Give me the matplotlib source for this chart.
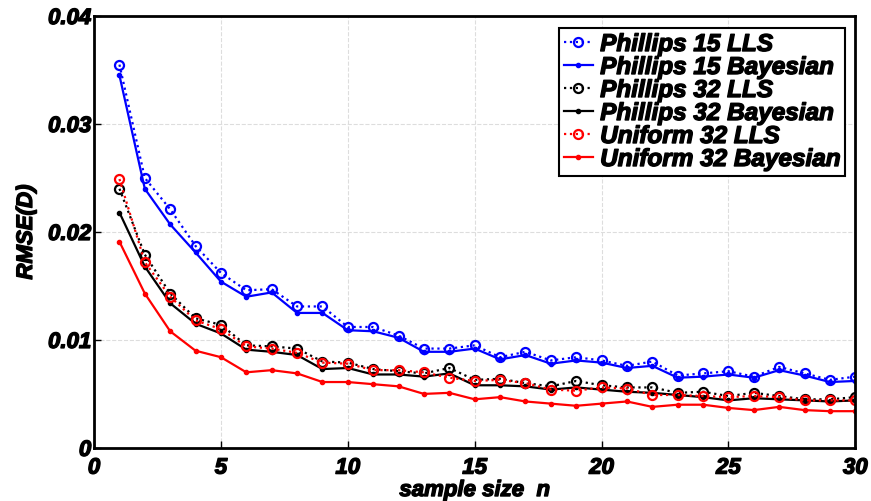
import numpy as np
import matplotlib.pyplot as plt
import matplotlib.patheffects as pe

plt.rcParams['font.family'] = ['Liberation Sans', 'DejaVu Sans']

n = np.arange(1, 31)

phillips15_lls = [0.0355, 0.0250, 0.0221, 0.0187, 0.0162, 0.0146, 0.0147, 0.0131, 0.0131, 0.0112,
                  0.0112, 0.0104, 0.0092, 0.0092, 0.0095, 0.0084, 0.0089, 0.0081, 0.0084, 0.0081,
                  0.0076, 0.0080, 0.0067, 0.0069, 0.0071, 0.0066, 0.0075, 0.0069, 0.0063, 0.0066]
phillips15_bayes = [0.0345, 0.0240, 0.0207, 0.0181, 0.0154, 0.0140, 0.0144, 0.0125, 0.0125, 0.0109,
                    0.0108, 0.0102, 0.0089, 0.0089, 0.0092, 0.0082, 0.0086, 0.0078, 0.0081, 0.0079,
                    0.0074, 0.0076, 0.0065, 0.0066, 0.0068, 0.0065, 0.0072, 0.0067, 0.0061, 0.0062]
phillips32_lls = [0.0240, 0.0179, 0.0143, 0.0120, 0.0114, 0.0095, 0.0094, 0.0092, 0.0080, 0.0079,
                  0.0073, 0.0071, 0.0069, 0.0074, 0.0063, 0.0064, 0.0060, 0.0057, 0.0062, 0.0058,
                  0.0056, 0.0056, 0.0051, 0.0052, 0.0048, 0.0051, 0.0048, 0.0045, 0.0045, 0.0047]
phillips32_bayes = [0.0218, 0.0168, 0.0134, 0.0115, 0.0106, 0.0091, 0.0089, 0.0086, 0.0073, 0.0074,
                    0.0068, 0.0068, 0.0066, 0.0069, 0.0058, 0.0058, 0.0057, 0.0054, 0.0056, 0.0054,
                    0.0052, 0.0051, 0.0049, 0.0047, 0.0044, 0.0046, 0.0045, 0.0044, 0.0043, 0.0044]
uniform32_lls = [0.0249, 0.0172, 0.0140, 0.0118, 0.0110, 0.0094, 0.0092, 0.0088, 0.0079, 0.0078,
                 0.0072, 0.0072, 0.0070, 0.0065, 0.0062, 0.0063, 0.0060, 0.0054, 0.0053, 0.0056,
                 0.0055, 0.0049, 0.0049, 0.0048, 0.0047, 0.0048, 0.0047, 0.0044, 0.0044, 0.0044]
uniform32_bayes = [0.0191, 0.0143, 0.0108, 0.0090, 0.0084, 0.0070, 0.0072, 0.0069, 0.0061, 0.0061,
                   0.0059, 0.0057, 0.0050, 0.0051, 0.0045, 0.0047, 0.0043, 0.0041, 0.0039, 0.0041,
                   0.0043, 0.0038, 0.0040, 0.0040, 0.0037, 0.0035, 0.0038, 0.0035, 0.0034, 0.0034]

series = [
    (phillips15_lls, 'Phillips 15 LLS', 'blue', ':', 'o'),
    (phillips15_bayes, 'Phillips 15 Bayesian', 'blue', '-', '.'),
    (phillips32_lls, 'Phillips 32 LLS', 'black', ':', 'o'),
    (phillips32_bayes, 'Phillips 32 Bayesian', 'black', '-', '.'),
    (uniform32_lls, 'Uniform 32 LLS', 'red', ':', 'o'),
    (uniform32_bayes, 'Uniform 32 Bayesian', 'red', '-', '.'),
]

# heavier look for the bold italic text
heavy = [pe.withStroke(linewidth=1.0, foreground='black')]

fig = plt.figure(figsize=(8.71, 5.01), dpi=100)
ax = fig.add_axes([0.108, 0.106, 0.874, 0.862])

for vals, label, col, ls, mk in series:
    if mk == 'o':
        ax.plot(n, vals, color=col, linestyle=ls, linewidth=1.6, marker='o',
                markersize=6.5, markerfacecolor='none', markeredgewidth=1.6, label=label)
    else:
        ax.plot(n, vals, color=col, linestyle=ls, linewidth=1.6, marker='.',
                markersize=6, label=label)

ax.set_xlim(0, 30)
ax.set_ylim(0, 0.04)
ax.set_xticks([0, 5, 10, 15, 20, 25, 30])
ax.set_yticks([0, 0.01, 0.02, 0.03, 0.04])
ax.set_yticklabels(['0', '0.01', '0.02', '0.03', '0.04'])
ax.grid(True, color='#dddddd', linestyle='--', linewidth=0.8)
ax.tick_params(direction='in', length=5, width=1, labelsize=16)
ax.tick_params(axis='x', pad=7)
ax.tick_params(axis='y', pad=2)
for lbl in ax.get_xticklabels() + ax.get_yticklabels():
    lbl.set_fontweight('bold')
    lbl.set_fontstyle('italic')
    lbl.set_path_effects(heavy)
for sp in ax.spines.values():
    sp.set_linewidth(2)

xl = ax.set_xlabel('sample size  n', fontsize=16, fontweight='bold', fontstyle='italic', labelpad=1)
yl = ax.set_ylabel('RMSE(D)', fontsize=16, fontweight='bold', fontstyle='italic', labelpad=8)
xl.set_path_effects(heavy)
yl.set_path_effects(heavy)

leg = ax.legend(loc='upper right', prop={'size': 17.5, 'weight': 'bold', 'style': 'italic'},
                fancybox=False, edgecolor='black', framealpha=1, handlelength=1.2,
                borderpad=0.2, labelspacing=0.0, handletextpad=0.3, borderaxespad=0,
                bbox_to_anchor=(0.987, 0.972))
leg.get_frame().set_linewidth(1.5)
for t in leg.get_texts():
    t.set_path_effects(heavy)

fig.savefig('out.png', dpi=100)
